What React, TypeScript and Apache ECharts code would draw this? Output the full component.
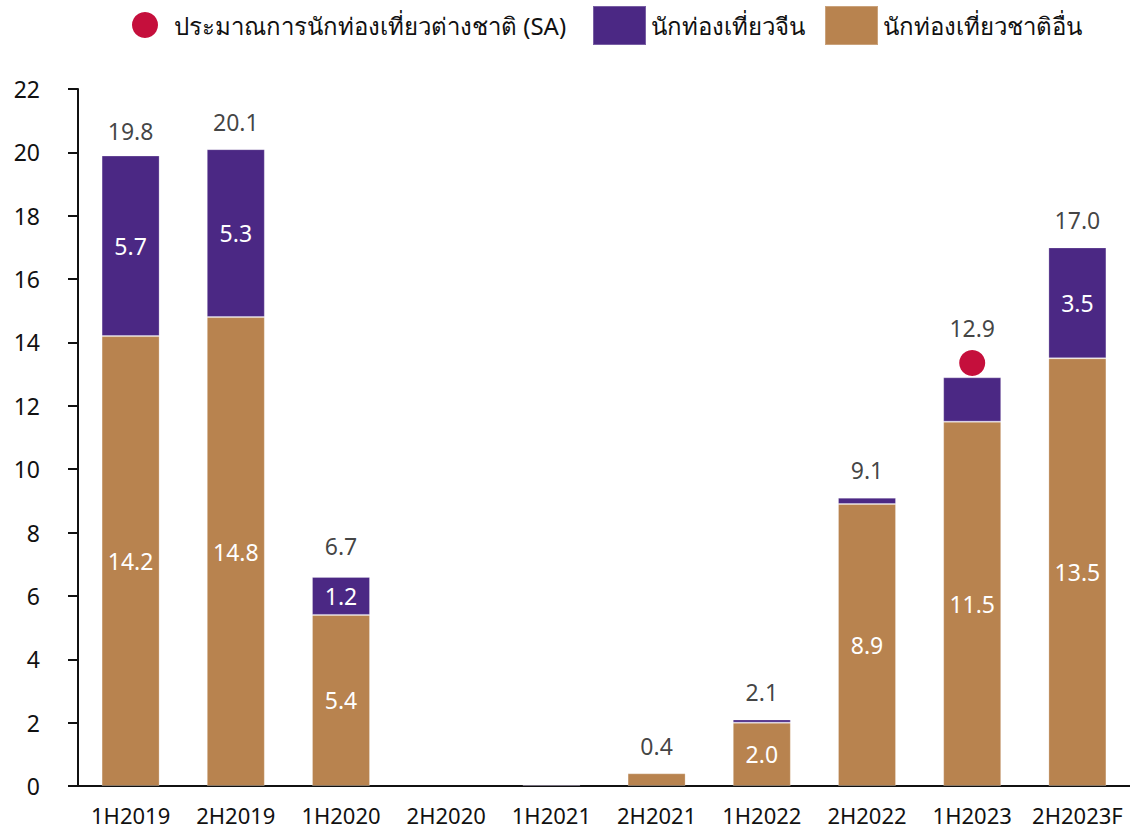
import React, { useEffect, useRef } from "react";
import * as echarts from "echarts";

const categories = ["1H2019", "2H2019", "1H2020", "2H2020", "1H2021", "2H2021", "1H2022", "2H2022", "1H2023", "2H2023F"];
const otherTourists = [14.2, 14.8, 5.4, null, null, 0.4, 2.0, 8.9, 11.5, 13.5];
const chinaTourists = [5.7, 5.3, 1.2, null, 0.04, null, 0.1, 0.2, 1.4, 3.5];
const totals = [19.8, 20.1, 6.7, null, null, 0.4, 2.1, 9.1, 12.9, 17.0];
const otherLabelShown = [true, true, true, false, false, false, true, true, true, true];
const chinaLabelShown = [true, true, true, false, false, false, false, false, false, true];
const saEstimate = [null, null, null, null, null, null, null, null, 13.35, null];
const yTicks = { min: 0, max: 22, interval: 2 };

const SA_NAME = "ประมาณการนักท่องเที่ยวต่างชาติ (SA)";
const CHINA_NAME = "นักท่องเที่ยวจีน";
const OTHER_NAME = "นักท่องเที่ยวชาติอื่น";

const FONT = "'Noto Sans', sans-serif";
const PURPLE = "#4B2884";
const BROWN = "#B8834F";
const RED = "#C50F3C";
const FS = 23;
const LEG_FS = 24;

export default function App() {
  const ref = useRef<HTMLDivElement>(null);
  useEffect(() => {
    if (!ref.current) return;
    const chart = echarts.init(ref.current, null, { renderer: "svg" });
    const fmt = (p: any) => Number(p.value).toFixed(1);
    chart.setOption({
      animation: false,
      textStyle: { fontFamily: FONT },
      legend: [
        {
          data: [{ name: SA_NAME, icon: "circle" }],
          left: 127,
          top: 7,
          itemWidth: 26,
          itemHeight: 26,
          itemGap: 20,
          textStyle: { fontSize: LEG_FS, color: "#111", fontFamily: FONT, padding: [0, 0, 0, 11] },
        },
        {
          data: [CHINA_NAME, OTHER_NAME],
          left: 587,
          top: 0,
          itemWidth: 53,
          itemHeight: 39,
          itemGap: 19,
          icon: "rect",
          textStyle: { fontSize: LEG_FS, color: "#111", fontFamily: FONT, padding: [0, 0, 0, 0] },
        },
      ],
      grid: { left: 78, right: -8, top: 89, bottom: 48, containLabel: false },
      xAxis: {
        type: "category",
        data: categories,
        axisLine: { lineStyle: { color: "#111", width: 2 } },
        axisTick: { show: false },
        axisLabel: { fontSize: 22, color: "#111", margin: 18, fontFamily: FONT, interval: 0 },
      },
      yAxis: {
        type: "value",
        min: yTicks.min,
        max: yTicks.max,
        interval: yTicks.interval,
        splitLine: { show: false },
        axisLine: { show: true, lineStyle: { color: "#111", width: 2 } },
        axisTick: { show: true, length: 10, lineStyle: { color: "#111", width: 2 } },
        axisLabel: { fontSize: FS, color: "#111", margin: 38, fontFamily: FONT },
      },
      series: [
        {
          name: OTHER_NAME,
          type: "bar",
          stack: "t",
          barWidth: 58,
          itemStyle: { color: BROWN, borderColor: "rgba(255,255,255,0.25)", borderWidth: 1 },
          label: { show: false },
          data: otherTourists.map((v, i) => ({
            value: v,
            label: { show: otherLabelShown[i], position: "inside", color: "#fff", fontSize: FS, formatter: fmt },
          })),
        },
        {
          name: CHINA_NAME,
          type: "bar",
          stack: "t",
          barWidth: 58,
          itemStyle: { color: PURPLE, borderColor: "rgba(255,255,255,0.25)", borderWidth: 1 },
          label: { show: false },
          data: chinaTourists.map((v, i) => ({
            value: v,
            label: { show: chinaLabelShown[i], position: "inside", color: "#fff", fontSize: FS, formatter: fmt },
          })),
        },
        {
          name: "totals",
          type: "scatter",
          symbolSize: 0,
          silent: true,
          data: totals.map((v, i) => ({
            value: v,
            label: {
              show: v !== null,
              position: "top",
              distance: 16,
              offset: i === 8 ? [0, -22] : [0, 0],
              color: "#111",
              fontSize: FS,
              formatter: fmt,
            },
          })),
          z: 5,
        },
        {
          name: SA_NAME,
          type: "scatter",
          symbol: "circle",
          symbolSize: 26,
          itemStyle: { color: RED, opacity: 1 },
          data: saEstimate,
          z: 6,
        },
      ],
    });
    return () => chart.dispose();
  }, []);
  return (
    <div style={{ position: "fixed", left: 0, top: 0, width: 1130, height: 834, overflow: "hidden", background: "#fff" }}>
      <div ref={ref} style={{ width: 1130, height: 834 }} />
    </div>
  );
}
